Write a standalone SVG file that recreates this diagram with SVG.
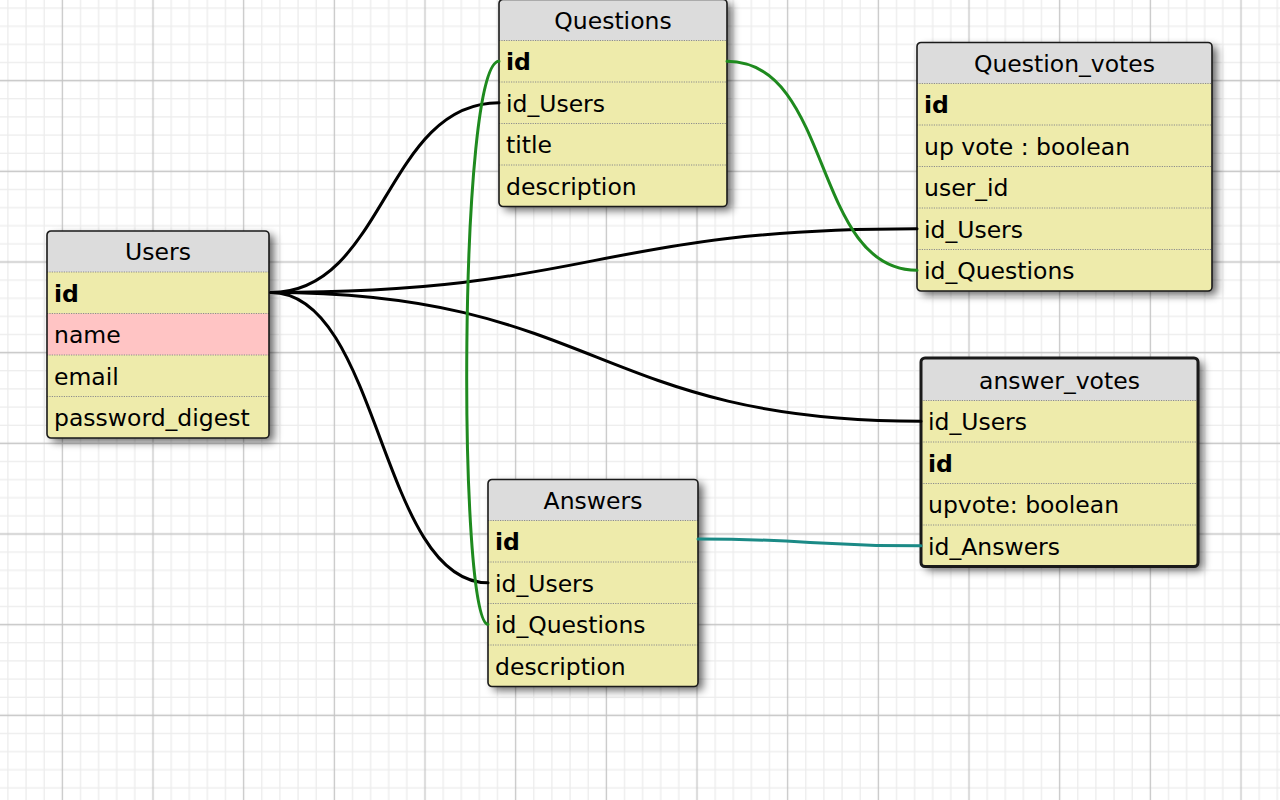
<svg xmlns="http://www.w3.org/2000/svg" width="1280" height="800" viewBox="0 0 1280 800">
<style>
.body{fill:#eeebab;filter:url(#shadow)}
.head{fill:#dcdcdc}
.pink{fill:#ffc4c4}
.sep{stroke:#8c8c8c;stroke-width:1;stroke-dasharray:1.2 1.2}
.frame{fill:none;stroke:#1a1a1a;stroke-width:1.6}
.frame.sel{stroke-width:3}
text{font-family:"DejaVu Sans","Liberation Sans",sans-serif;font-size:23.5px;fill:#000}
.title{text-anchor:middle}
.pk{font-weight:bold}
.conn{fill:none;stroke-width:3;stroke-linecap:round}
.black{stroke:#000}
.green{stroke:#1e8a1e}
.teal{stroke:#1b8a86}
</style>
<defs>
<filter id="shadow" x="-10%" y="-10%" width="130%" height="130%">
<feGaussianBlur in="SourceAlpha" stdDeviation="4.5"/>
<feOffset dx="5" dy="4" result="b"/>
<feComponentTransfer><feFuncA type="linear" slope="0.6"/></feComponentTransfer>
<feMerge><feMergeNode/><feMergeNode in="SourceGraphic"/></feMerge>
</filter>
<pattern id="grid" x="17" y="35.33" width="90.667" height="90.667" patternUnits="userSpaceOnUse">
<g stroke="#ececec" stroke-width="1.3">
<line x1="9.067" y1="0" x2="9.067" y2="90.667"/>
<line x1="27.2" y1="0" x2="27.2" y2="90.667"/>
<line x1="63.467" y1="0" x2="63.467" y2="90.667"/>
<line x1="81.6" y1="0" x2="81.6" y2="90.667"/>
<line y1="9.067" x1="0" y2="9.067" x2="90.667"/>
<line y1="27.2" x1="0" y2="27.2" x2="90.667"/>
<line y1="63.467" x1="0" y2="63.467" x2="90.667"/>
<line y1="81.6" x1="0" y2="81.6" x2="90.667"/>
</g>
<g stroke="#c4c4c4" stroke-width="1.3">
<line x1="45.333" y1="0" x2="45.333" y2="90.667"/>
<line y1="45.333" x1="0" y2="45.333" x2="90.667"/>
</g>
</pattern>
</defs>
<rect width="1280" height="800" fill="#fff"/>
<rect width="1280" height="800" fill="url(#grid)"/>

<g id="users" transform="translate(47,231)">
<rect class="body" width="222" height="207" rx="4"/>
<path class="head" d="M0,41V4A4,4 0 0 1 4,0H218A4,4 0 0 1 222,4V41Z"/>
<rect class="pink" y="82.5" width="222" height="41.5"/>
<line class="sep" x1="0" x2="222" y1="41" y2="41"/>
<line class="sep" x1="0" x2="222" y1="82.5" y2="82.5"/>
<line class="sep" x1="0" x2="222" y1="124" y2="124"/>
<line class="sep" x1="0" x2="222" y1="165.5" y2="165.5"/>
<rect class="frame" width="222" height="207" rx="4"/>
<text class="title" x="111" y="29">Users</text>
<text class="pk" x="7" y="70.5">id</text>
<text x="7" y="112">name</text>
<text x="7" y="153.5">email</text>
<text x="7" y="195">password_digest</text>
</g>

<g id="questions" transform="translate(499,-0.5)">
<rect class="body" width="228" height="207" rx="4"/>
<path class="head" d="M0,41V4A4,4 0 0 1 4,0H224A4,4 0 0 1 228,4V41Z"/>
<line class="sep" x1="0" x2="228" y1="41" y2="41"/>
<line class="sep" x1="0" x2="228" y1="82.5" y2="82.5"/>
<line class="sep" x1="0" x2="228" y1="124" y2="124"/>
<line class="sep" x1="0" x2="228" y1="165.5" y2="165.5"/>
<rect class="frame" width="228" height="207" rx="4"/>
<text class="title" x="114" y="29">Questions</text>
<text class="pk" x="7" y="70.5">id</text>
<text x="7" y="112">id_Users</text>
<text x="7" y="153.5">title</text>
<text x="7" y="195">description</text>
</g>

<g id="question_votes" transform="translate(917,42.5)">
<rect class="body" width="295" height="248.5" rx="4"/>
<path class="head" d="M0,41V4A4,4 0 0 1 4,0H291A4,4 0 0 1 295,4V41Z"/>
<line class="sep" x1="0" x2="295" y1="41" y2="41"/>
<line class="sep" x1="0" x2="295" y1="82.5" y2="82.5"/>
<line class="sep" x1="0" x2="295" y1="124" y2="124"/>
<line class="sep" x1="0" x2="295" y1="165.5" y2="165.5"/>
<line class="sep" x1="0" x2="295" y1="207" y2="207"/>
<rect class="frame" width="295" height="248.5" rx="4"/>
<text class="title" x="147.5" y="29">Question_votes</text>
<text class="pk" x="7" y="70.5">id</text>
<text x="7" y="112">up vote : boolean</text>
<text x="7" y="153.5">user_id</text>
<text x="7" y="195">id_Users</text>
<text x="7" y="236.5">id_Questions</text>
</g>

<g id="answer_votes" transform="translate(921,358)">
<rect class="body" width="277" height="208.5" rx="4"/>
<path class="head" d="M0,42.5V4A4,4 0 0 1 4,0H273A4,4 0 0 1 277,4V42.5Z"/>
<line class="sep" x1="0" x2="277" y1="42.5" y2="42.5"/>
<line class="sep" x1="0" x2="277" y1="84" y2="84"/>
<line class="sep" x1="0" x2="277" y1="125.5" y2="125.5"/>
<line class="sep" x1="0" x2="277" y1="167" y2="167"/>
<rect class="frame sel" width="277" height="208.5" rx="4"/>
<text class="title" x="138.5" y="30.5">answer_votes</text>
<text x="7" y="72">id_Users</text>
<text class="pk" x="7" y="113.5">id</text>
<text x="7" y="155">upvote: boolean</text>
<text x="7" y="196.5">id_Answers</text>
</g>

<g id="answers" transform="translate(488,479.5)">
<rect class="body" width="210" height="207" rx="4"/>
<path class="head" d="M0,41V4A4,4 0 0 1 4,0H206A4,4 0 0 1 210,4V41Z"/>
<line class="sep" x1="0" x2="210" y1="41" y2="41"/>
<line class="sep" x1="0" x2="210" y1="82.5" y2="82.5"/>
<line class="sep" x1="0" x2="210" y1="124" y2="124"/>
<line class="sep" x1="0" x2="210" y1="165.5" y2="165.5"/>
<rect class="frame" width="210" height="207" rx="4"/>
<text class="title" x="105" y="29">Answers</text>
<text class="pk" x="7" y="70.5">id</text>
<text x="7" y="112">id_Users</text>
<text x="7" y="153.5">id_Questions</text>
<text x="7" y="195">description</text>
</g>

<g id="connectors">
<path class="conn black" d="M271,292.5C385,292.5 385,102.75 499,102.75"/>
<path class="conn black" d="M271,292.5C594,292.5 594,228.75 917,228.75"/>
<path class="conn black" d="M271,292.5C596,292.5 596,421.25 921,421.25"/>
<path class="conn black" d="M271,292.5C380,292.5 380,582.75 488,582.75"/>
<path class="conn green" d="M499,61.25C458,61.25 458,624.25 488,624.25"/>
<path class="conn green" d="M727,61.25C833,61.25 812,270.25 917,270.25"/>
<path class="conn teal" d="M698,539C810,539 810,545.75 921,545.75"/>
</g>
</svg>
